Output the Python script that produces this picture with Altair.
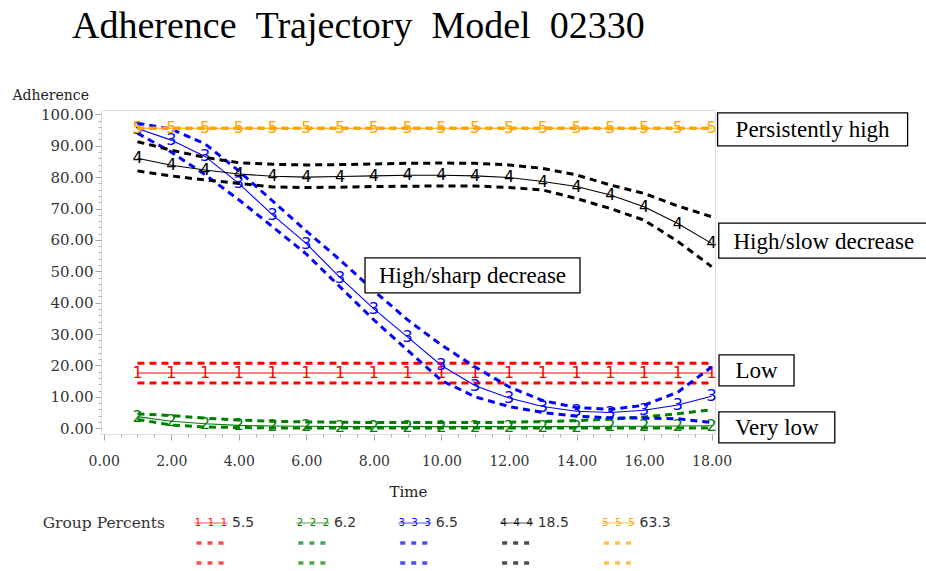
import altair as alt
import pandas as pd

# ---- trajectory data -------------------------------------------------------
times = list(range(1, 19))

groups = ["1", "2", "3", "4", "5"]
group_colors = ["#FF0000", "#008000", "#0000FF", "#000000", "#FFA500"]
group_percents = ["5.5", "6.2", "6.5", "18.5", "63.3"]

# group 1 - low
est_1 = [17.6, 17.6, 17.6, 17.6, 17.6, 17.6, 17.6, 17.6, 17.6, 17.6, 17.6, 17.6, 17.6, 17.6, 17.6, 17.6, 17.6, 17.6]
upper_1 = [20.7, 20.7, 20.7, 20.7, 20.7, 20.7, 20.7, 20.7, 20.7, 20.7, 20.7, 20.7, 20.7, 20.7, 20.7, 20.7, 20.7, 20.7]
lower_1 = [14.4, 14.4, 14.4, 14.4, 14.4, 14.4, 14.4, 14.4, 14.4, 14.4, 14.4, 14.4, 14.4, 14.4, 14.4, 14.4, 14.4, 14.4]

# group 2 - very low
est_2 = [3.7, 2.2, 1.4, 0.9, 0.7, 0.6, 0.5, 0.5, 0.5, 0.5, 0.5, 0.5, 0.5, 0.5, 0.6, 0.6, 0.7, 0.8]
upper_2 = [4.6, 4.0, 3.2, 2.6, 2.2, 2.0, 1.9, 1.8, 1.8, 1.8, 1.8, 1.9, 2.1, 2.4, 2.9, 3.6, 4.6, 5.9]
lower_2 = [2.8, 1.0, 0.4, 0.2, 0.1, 0.1, 0.1, 0.1, 0.1, 0.1, 0.1, 0.1, 0.1, 0.1, 0.1, 0.1, 0.1, 0.1]

# group 3 - high / sharp decrease
est_3 = [95.5, 91.8, 86.6, 78.0, 68.0, 58.8, 48.0, 38.0, 29.0, 20.0, 13.5, 9.6, 6.9, 5.4, 5.0, 5.7, 7.4, 10.2]
upper_3 = [97.2, 95.3, 90.6, 82.0, 72.4, 62.8, 53.6, 43.8, 34.5, 26.5, 19.5, 13.2, 8.8, 6.6, 6.0, 7.3, 11.5, 19.5]
lower_3 = [94.0, 88.0, 80.8, 72.8, 64.2, 55.5, 45.0, 34.5, 24.8, 15.2, 10.0, 6.9, 5.0, 3.8, 3.3, 3.2, 3.0, 1.8]

# group 4 - high / slow decrease
est_4 = [86.0, 83.8, 82.3, 81.0, 80.3, 80.0, 80.2, 80.4, 80.6, 80.6, 80.4, 79.9, 78.6, 77.0, 74.3, 70.6, 65.2, 58.9]
upper_4 = [91.3, 88.6, 86.3, 84.6, 84.1, 83.9, 84.0, 84.2, 84.4, 84.5, 84.4, 83.9, 82.8, 80.7, 77.5, 74.8, 70.8, 67.4]
lower_4 = [82.0, 80.4, 79.1, 78.0, 76.9, 76.7, 76.8, 77.0, 77.1, 77.2, 77.2, 76.7, 75.9, 73.2, 70.0, 66.3, 59.5, 51.5]

# group 5 - persistently high
est_5 = [95.6, 95.6, 95.6, 95.6, 95.6, 95.6, 95.6, 95.6, 95.6, 95.6, 95.6, 95.6, 95.6, 95.6, 95.6, 95.6, 95.6, 95.6]
upper_5 = [95.7, 95.7, 95.7, 95.7, 95.7, 95.7, 95.7, 95.7, 95.7, 95.7, 95.7, 95.7, 95.7, 95.7, 95.7, 95.7, 95.7, 95.7]
lower_5 = [95.5, 95.5, 95.5, 95.5, 95.5, 95.5, 95.5, 95.5, 95.5, 95.5, 95.5, 95.5, 95.5, 95.5, 95.5, 95.5, 95.5, 95.5]

series = {
    "1": (est_1, upper_1, lower_1),
    "2": (est_2, upper_2, lower_2),
    "3": (est_3, upper_3, lower_3),
    "4": (est_4, upper_4, lower_4),
    "5": (est_5, upper_5, lower_5),
}

# ---- annotation boxes --------------------------------------------------------
ann_labels = ["Persistently high", "High/slow decrease", "Low", "Very low", "High/sharp decrease"]
ann_time = [20.99, 21.32, 19.33, 19.93, 10.92]
ann_value = [95.2, 59.8, 18.4, 0.25, 48.7]
ann_box_w = [190, 210, 75, 116, 215]
ann_box_h = [33, 35, 31, 31, 35]

# ---- long-form table -------------------------------------------------------
rows = []
for g, (est, up, lo) in series.items():
    for band, vals in (("est", est), ("upper", up), ("lower", lo)):
        for t, v in zip(times, vals):
            rows.append({"t": t, "value": v, "group": g, "band": band})
traj = pd.DataFrame(rows)

ann = pd.DataFrame({"label": ann_labels, "t": ann_time, "v": ann_value})

serif = "DejaVu Serif"
color_scale = alt.Scale(domain=groups, range=group_colors)
x_scale = alt.Scale(domain=[-0.08, 18.1], nice=False, zero=False)
y_scale = alt.Scale(domain=[-1.85, 101.4], nice=False, zero=False)

X = alt.X("t:Q", scale=x_scale, axis=None)
Y = alt.Y("value:Q", scale=y_scale, axis=None)
C = alt.Color("group:N", scale=color_scale, legend=None)

# ---- axes (major + minor ticks) --------------------------------------------
major_x = alt.Axis(
    orient="bottom", values=list(range(0, 19, 2)), format=".2f", title="Time",
    labelFont=serif, labelFontSize=14, labelColor="#333333", labelPadding=14,
    labelOverlap=False, labelFlush=False, tickColor="#a0a0a0", tickSize=6,
    domain=False, grid=False, titleFont=serif, titleFontSize=15,
    titleFontWeight="normal", titleColor="#222222", titlePadding=16,
)
minor_x = alt.Axis(
    orient="bottom", values=[i / 2 for i in range(0, 37)], labels=False, title=None,
    tickColor="#b0b0b0", tickSize=3, domain=False, grid=False,
)
major_y = alt.Axis(
    orient="left", values=list(range(0, 101, 10)), format=".2f", title="Adherence",
    labelFont=serif, labelFontSize=15, labelColor="#333333", labelPadding=2,
    labelOverlap=False, labelFlush=False, tickColor="#a0a0a0", tickSize=6,
    domain=False, grid=False, titleFont=serif, titleFontSize=14,
    titleFontWeight="normal", titleColor="#222222", titleAngle=0,
    titleAlign="left", titleBaseline="middle", titleX=-89, titleY=-15,
)
minor_y = alt.Axis(
    orient="left", values=list(range(0, 101, 2)), labels=False, title=None,
    tickColor="#b0b0b0", tickSize=3, domain=False, grid=False,
)

axis_major = alt.Chart(traj).mark_point(opacity=0).encode(
    x=alt.X("t:Q", scale=x_scale, axis=major_x),
    y=alt.Y("value:Q", scale=y_scale, axis=major_y),
)
axis_minor = alt.Chart(traj).mark_point(opacity=0).encode(
    x=alt.X("t:Q", scale=x_scale, axis=minor_x),
    y=alt.Y("value:Q", scale=y_scale, axis=minor_y),
)

# ---- trajectories: dashed CI, solid estimate, numbered markers -------------
traj_layers = []
for g in groups:
    gd = alt.Chart(traj).transform_filter(alt.datum.group == g)
    traj_layers.append(
        gd.transform_filter("datum.band != 'est'")
        .mark_line(strokeWidth=3, strokeDash=[7, 5])
        .encode(x=X, y=Y, color=C, detail="band:N", order="t:Q")
    )
    traj_layers.append(
        gd.transform_filter("datum.band == 'est'")
        .mark_line(strokeWidth=1.1)
        .encode(x=X, y=Y, color=C, order="t:Q")
    )
    traj_layers.append(
        gd.transform_filter("datum.band == 'est'")
        .mark_text(font="DejaVu Sans", fontSize=16, baseline="middle", align="center")
        .encode(x=X, y=Y, color=C, text="group:N")
    )

# ---- annotation boxes ----------------------------------------------------------
ann_layers = []
for lab, w, h in zip(ann_labels, ann_box_w, ann_box_h):
    a = alt.Chart(ann).transform_filter(alt.datum.label == lab)
    ann_layers.append(
        a.mark_rect(fill="white", stroke="black", strokeWidth=1.3,
                    xOffset=-w / 2, x2Offset=w / 2, yOffset=-h / 2, y2Offset=h / 2)
        .encode(x=alt.X("t:Q", scale=x_scale, axis=None), x2="t:Q",
                y=alt.Y("v:Q", scale=y_scale, axis=None), y2="v:Q")
    )
    ann_layers.append(
        a.mark_text(font="Liberation Serif", fontSize=23, align="center",
                    baseline="middle", dy=1, color="black")
        .encode(x=alt.X("t:Q", scale=x_scale, axis=None),
                y=alt.Y("v:Q", scale=y_scale, axis=None), text="label:N")
    )

main = alt.layer(axis_major, axis_minor, *traj_layers, *ann_layers).resolve_axis(
    x="independent", y="independent"
)

# ---- group-percent legend -------------------------------------------------------
leg_rows = []
for g, pct in zip(groups, group_percents):
    for r in ("solid", "ci1", "ci2"):
        leg_rows.append({"group": g, "pct": pct, "row": r})
leg = pd.DataFrame(leg_rows)

LX = alt.X("group:N", scale=alt.Scale(type="point", domain=groups, range=[110, 517.5], padding=0), axis=None)
LY = alt.Y("row:N", scale=alt.Scale(type="point", domain=["solid", "ci1", "ci2"], range=[413, 453], padding=0), axis=None)

lbase = alt.Chart(leg)
leg_solid = lbase.transform_filter("datum.row == 'solid'")
leg_dash = lbase.transform_filter("datum.row != 'solid'")

legend_layers = [
    leg_solid.mark_tick(orient="horizontal", size=33, thickness=1).encode(x=LX, y=LY, color=C),
]
for off in (-13, 0, 13):
    legend_layers.append(
        leg_solid.mark_text(font="DejaVu Sans", fontSize=10, dx=off, baseline="middle")
        .encode(x=LX, y=LY, color=C, text="group:N")
    )
for off in (-12, -1, 10):
    legend_layers.append(
        leg_dash.mark_tick(orient="horizontal", size=5, thickness=3.5, xOffset=off)
        .encode(x=LX, y=LY, color=C)
    )
legend_layers.append(
    leg_solid.mark_text(font="DejaVu Sans", fontSize=14, align="left", dx=21,
                        baseline="middle", color="#333333")
    .encode(x=LX, y=LY, text="pct:N")
)
legend_layers.append(
    leg_solid.transform_filter("datum.group == '1'")
    .mark_text(font=serif, fontSize=15.5, align="right", dx=-46, baseline="middle",
               color="#333333", text="Group Percents")
    .encode(x=LX, y=LY)
)
legend = alt.layer(*legend_layers)

chart = (
    alt.layer(main, legend)
    .resolve_scale(x="independent", y="independent")
    .properties(
        width=614,
        height=324,
        autosize=alt.AutoSizeParams(type="none"),
        padding={"left": 101, "top": 110, "right": 211, "bottom": 137},
        title=alt.Title(
            "Adherence\u2002Trajectory\u2002Model\u200202330",
            anchor="start", frame="group", dx=-29, offset=42,
            font="Liberation Serif", fontSize=38, fontWeight="normal", color="black",
        ),
    )
    .configure_view(stroke="#b8b8b8", strokeWidth=1)
    .configure(background="white")
)

chart.save("out.html", embed_options={"renderer": "svg", "actions": False})
